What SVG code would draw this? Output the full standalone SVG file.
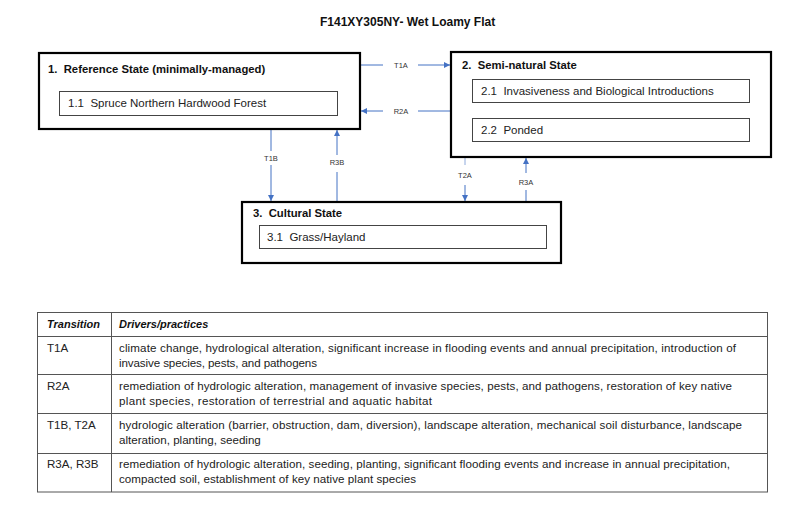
<svg xmlns="http://www.w3.org/2000/svg" width="800" height="511" viewBox="0 0 800 511">
<style>
  text { font-family: "Liberation Sans", Arial, sans-serif; fill: #111; }
  .title { font-size: 12px; font-weight: bold; }
  .stitle { font-size: 11.3px; font-weight: bold; }
  .sub { font-size: 11.5px; fill: #222; }
  .lbl { font-size: 7.5px; fill: #333; text-anchor: middle; }
  .outer { fill: #fff; stroke: #000; stroke-width: 2.2; }
  .inner { fill: #fff; stroke: #444; stroke-width: 1; }
  .conn { stroke: #4472C4; stroke-width: 1; fill: none; }
  .grid { stroke: #555; stroke-width: 1; fill: none; }
  .th { font-size: 11px; font-weight: bold; font-style: italic; }
  .td { font-size: 11.6px; fill: #222; }
</style>
<defs>
  <marker id="arrow" viewBox="0 0 10 10" refX="10" refY="5" markerWidth="6" markerHeight="6" markerUnits="userSpaceOnUse" orient="auto">
    <path d="M0,0 L10,5 L0,10 Z" fill="#4472C4"/>
  </marker>
</defs>
<rect width="800" height="511" fill="#fff"/>
<text class="title" x="320" y="26">F141XY305NY- Wet Loamy Flat</text>

<g id="connectors">
  <g id="T1A">
    <line class="conn" x1="361" y1="65" x2="383" y2="65"/>
    <line class="conn" x1="418" y1="65" x2="450" y2="65" marker-end="url(#arrow)"/>
    <text class="lbl" x="401" y="67.5">T1A</text>
  </g>
  <g id="R2A">
    <line class="conn" x1="450" y1="111" x2="418" y2="111"/>
    <line class="conn" x1="383" y1="111" x2="361" y2="111" marker-end="url(#arrow)"/>
    <text class="lbl" x="401" y="113.5">R2A</text>
  </g>
  <g id="T1B">
    <line class="conn" x1="271" y1="130" x2="271" y2="151"/>
    <line class="conn" x1="271" y1="165" x2="271" y2="201" marker-end="url(#arrow)"/>
    <text class="lbl" x="271" y="160.5">T1B</text>
  </g>
  <g id="R3B">
    <line class="conn" x1="337" y1="201" x2="337" y2="172"/>
    <line class="conn" x1="337" y1="155" x2="337" y2="130" marker-end="url(#arrow)"/>
    <text class="lbl" x="337" y="164.5">R3B</text>
  </g>
  <g id="T2A">
    <line class="conn" x1="465" y1="158" x2="465" y2="165" stroke-opacity="0.6"/>
    <line class="conn" x1="465" y1="185" x2="465" y2="201" marker-end="url(#arrow)"/>
    <text class="lbl" x="465" y="177.5">T2A</text>
  </g>
  <g id="R3A">
    <line class="conn" x1="526" y1="201" x2="526" y2="190"/>
    <line class="conn" x1="526" y1="173" x2="526" y2="158" marker-end="url(#arrow)"/>
    <text class="lbl" x="526" y="184.5">R3A</text>
  </g>
</g>

<g id="state1">
  <rect class="outer" x="39" y="53" width="321" height="76"/>
  <text class="stitle" x="48" y="73" xml:space="preserve">1.  Reference State (minimally-managed)</text>
  <g id="state1-1">
    <rect class="inner" x="59.5" y="91.5" width="278" height="24"/>
    <text class="sub" x="68" y="107" xml:space="preserve">1.1  Spruce Northern Hardwood Forest</text>
  </g>
</g>

<g id="state2">
  <rect class="outer" x="451" y="52" width="320" height="105"/>
  <text class="stitle" x="462" y="69" xml:space="preserve">2.  Semi-natural State</text>
  <g id="state2-1">
    <rect class="inner" x="472.5" y="79.5" width="277" height="23"/>
    <text class="sub" x="481" y="95" xml:space="preserve">2.1  Invasiveness and Biological Introductions</text>
  </g>
  <g id="state2-2">
    <rect class="inner" x="472.5" y="118.5" width="277" height="23"/>
    <text class="sub" x="481" y="134" xml:space="preserve">2.2  Ponded</text>
  </g>
</g>

<g id="state3">
  <rect class="outer" x="242" y="202" width="319" height="61"/>
  <text class="stitle" x="253" y="217" xml:space="preserve">3.  Cultural State</text>
  <g id="state3-1">
    <rect class="inner" x="259.5" y="225.5" width="287" height="23"/>
    <text class="sub" x="267" y="241" xml:space="preserve">3.1  Grass/Hayland</text>
  </g>
</g>

<g id="table">
  <rect class="grid" x="37.5" y="312.5" width="730" height="179.5"/>
  <line class="grid" x1="111.5" y1="312.5" x2="111.5" y2="492"/>
  <line class="grid" x1="37.5" y1="336.5" x2="767.5" y2="336.5"/>
  <line class="grid" x1="37.5" y1="374.5" x2="767.5" y2="374.5"/>
  <line class="grid" x1="37.5" y1="413.5" x2="767.5" y2="413.5"/>
  <line class="grid" x1="37.5" y1="453.5" x2="767.5" y2="453.5"/>
  <text class="th" x="47" y="328">Transition</text>
  <text class="th" x="119" y="328">Drivers/practices</text>
  <text class="td" x="47" y="352">T1A</text>
  <text class="td" x="119" y="352" textLength="617">climate change, hydrological alteration, significant increase in flooding events and annual precipitation, introduction of</text>
  <text class="td" x="119" y="367" textLength="198">invasive species, pests, and pathogens</text>
  <text class="td" x="47" y="390">R2A</text>
  <text class="td" x="119" y="390" textLength="613">remediation of hydrologic alteration, management of invasive species, pests, and pathogens, restoration of key native</text>
  <text class="td" x="119" y="405" textLength="313">plant species, restoration of terrestrial and aquatic habitat</text>
  <text class="td" x="47" y="429">T1B, T2A</text>
  <text class="td" x="119" y="429" textLength="623">hydrologic alteration (barrier, obstruction, dam, diversion), landscape alteration, mechanical soil disturbance, landscape</text>
  <text class="td" x="119" y="444">alteration, planting, seeding</text>
  <text class="td" x="47" y="468">R3A, R3B</text>
  <text class="td" x="119" y="468" textLength="611">remediation of hydrologic alteration, seeding, planting, significant flooding events and increase in annual precipitation,</text>
  <text class="td" x="119" y="483" textLength="297">compacted soil, establishment of key native plant species</text>
</g>
</svg>
